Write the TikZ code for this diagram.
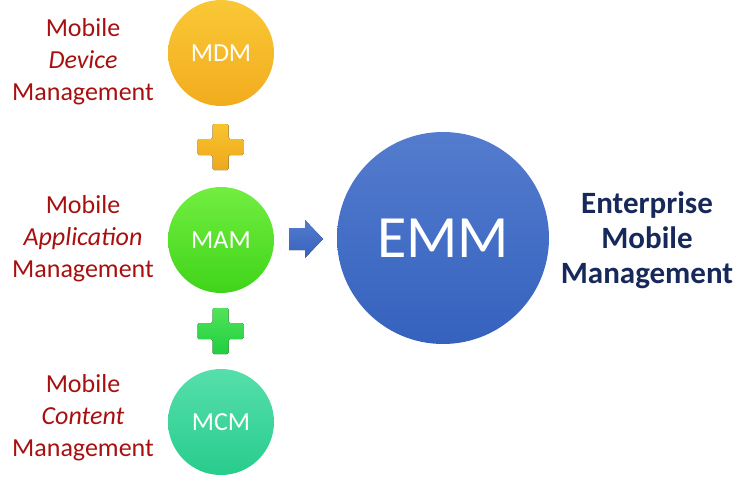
\documentclass[tikz,border=0pt]{standalone}
\usepackage{fontspec}
\setmainfont{Carlito}
\usepackage{tikz}
\usetikzlibrary{positioning}

\definecolor{labelred}{HTML}{A81010}
\definecolor{navy}{HTML}{17285A}
\definecolor{mdmtop}{HTML}{F9C836}
\definecolor{mdmbot}{HTML}{F2AC1E}
\definecolor{mamtop}{HTML}{72EE40}
\definecolor{mambot}{HTML}{40D41A}
\definecolor{mcmtop}{HTML}{56DFAA}
\definecolor{mcmbot}{HTML}{28CC8D}
\definecolor{emmtop}{HTML}{547CCE}
\definecolor{emmbot}{HTML}{3562BE}
\definecolor{plusyellowtop}{HTML}{F8C42E}
\definecolor{plusyellowbot}{HTML}{EFA71C}
\definecolor{plusgreentop}{HTML}{52E35A}
\definecolor{plusgreenbot}{HTML}{1ECF3E}

\begin{document}
\begin{tikzpicture}[x=1pt,y=-1pt,
	ball/.style={circle,minimum size=106pt,inner sep=0pt,text=white,font=\fontsize{26}{30}\selectfont},
	side/.style={align=center,text=labelred,font=\fontsize{26}{32}\selectfont}]
	\useasboundingbox (0,0) rectangle (750,487);
	% the three parts
	\node[ball,top color=mdmtop,bottom color=mdmbot] (mdm) at (221,53) {MDM};
	\node[ball,top color=mamtop,bottom color=mambot] (mam) at (221,240) {MAM};
	\node[ball,top color=mcmtop,bottom color=mcmbot] (mcm) at (221,422) {MCM};
	\node[side] (mdmlabel) at (83,62) {Mobile\\ \textit{Device}\\ Management};
	\node[side] (mamlabel) at (83,239) {Mobile\\ \textit{Application}\\ Management};
	\node[side] (mcmlabel) at (83,418) {Mobile\\ \textit{Content}\\ Management};
	% plus signs
	\foreach \y/\c in {147/plusyellow,331/plusgreen}
		\fill[shift={(220.5,\y)},rounded corners=1.5pt,top color=\c top,bottom color=\c bot]
			(-8,-23) -- (8,-23) -- (8,-8) -- (23,-8) -- (23,8) -- (8,8) -- (8,23)
			-- (-8,23) -- (-8,8) -- (-23,8) -- (-23,-8) -- (-8,-8) -- cycle;
	% arrow
	\fill[top color=emmtop,bottom color=emmbot]
		(289,228) -- (305,228) -- (305,220) -- (323,239) -- (305,258) -- (305,250) -- (289,250) -- cycle;
	% result
	\node[ball,minimum size=212pt,top color=emmtop,bottom color=emmbot,font=\fontsize{60}{66}\selectfont] (emm) at (443,238) {EMM};
	\node[align=center,text=navy,font=\fontsize{31}{35}\selectfont\bfseries] (emmlabel) at (647,240) {Enterprise\\ Mobile\\ Management};
\end{tikzpicture}
\end{document}
